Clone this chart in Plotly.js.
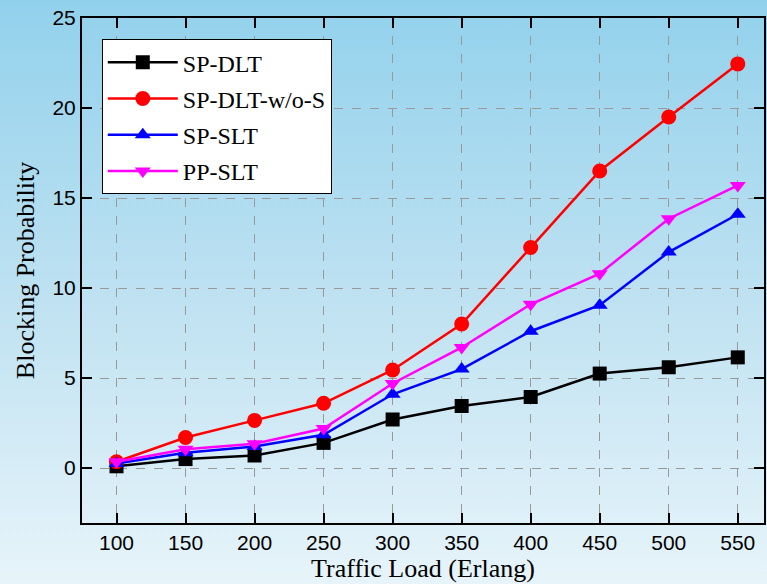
<!DOCTYPE html>
<html>
<head>
<meta charset="utf-8">
<script src="https://cdn.plot.ly/plotly-3.0.1.min.js"></script>
<style>
html,body{margin:0;padding:0;}
body{width:767px;height:584px;background:linear-gradient(to bottom,#92d1ec 0%,#c2e3f2 55%,#e7f4fa 100%);}
#chart{width:767px;height:584px;}
</style>
</head>
<body>
<div id="chart"></div>
<script>
const trafficLoad = [100, 150, 200, 250, 300, 350, 400, 450, 500, 550];
const spDLT       = [0.1, 0.5, 0.7, 1.4, 2.7, 3.45, 3.95, 5.25, 5.6, 6.15];
const spDLTwoS    = [0.35, 1.7, 2.65, 3.6, 5.45, 8.0, 12.25, 16.5, 19.5, 22.45];
const spSLT       = [0.25, 0.85, 1.2, 1.85, 4.1, 5.5, 7.6, 9.05, 12.0, 14.1];
const ppSLT       = [0.35, 1.05, 1.35, 2.2, 4.7, 6.7, 9.1, 10.8, 13.85, 15.7];
const seriesNames = ['SP-DLT', 'SP-DLT-w/o-S', 'SP-SLT', 'PP-SLT'];
const xTicks = [100, 150, 200, 250, 300, 350, 400, 450, 500, 550];
const yTicks = [0, 5, 10, 15, 20, 25];

const colors = ['#000000', '#ff0000', '#0000ff', '#ff00ff'];
const symbols = ['square', 'circle', 'triangle-up', 'triangle-down'];
const ys = [spDLT, spDLTwoS, spSLT, ppSLT];

const serif = 'Liberation Serif';
const sans = 'Liberation Sans';

const traces = ys.map((y, i) => ({
  x: trafficLoad, y: y, name: seriesNames[i], type: 'scatter', mode: 'lines+markers',
  legendgroup: 'g' + i,
  line: {color: colors[i], width: 2.5},
  marker: {color: colors[i], symbol: symbols[i], size: i === 1 ? 15 : 14, line: {width: 0}}
}));

const axisCommon = {
  showline: true, linecolor: '#000', linewidth: 2, mirror: 'ticks',
  ticks: 'inside', ticklen: 10, tickwidth: 2, tickcolor: '#000',
  showgrid: true, gridcolor: '#999999', griddash: 'dash', gridwidth: 1,
  zeroline: false,
  tickfont: {family: sans, size: 21, color: '#000'}
};

const layout = {
  width: 767, height: 584,
  margin: {l: 82, r: 3, t: 18, b: 61},
  paper_bgcolor: 'rgba(0,0,0,0)', plot_bgcolor: 'rgba(0,0,0,0)',
  xaxis: Object.assign({}, axisCommon, {
    range: [75, 569], tickvals: xTicks, ticktext: xTicks.map(String),
    title: {text: 'Traffic Load (Erlang)', standoff: 6,
      font: {family: serif, size: 26, color: '#000'}}
  }),
  yaxis: Object.assign({}, axisCommon, {
    range: [-3.05, 25], tickvals: yTicks, ticktext: yTicks.map(String),
    title: {text: 'Blocking Probability', standoff: 10,
      font: {family: serif, size: 26, color: '#000'}}
  }),
  showlegend: true,
  legend: {
    x: 0.029, y: 0.958, xanchor: 'left', yanchor: 'top',
    bgcolor: '#ffffff', bordercolor: '#000', borderwidth: 1,
    tracegroupgap: 2, itemwidth: 70,
    font: {family: serif, size: 24, color: '#000'}
  }
};

Plotly.newPlot('chart', traces, layout, {displayModeBar: false, staticPlot: true});
</script>
</body>
</html>
